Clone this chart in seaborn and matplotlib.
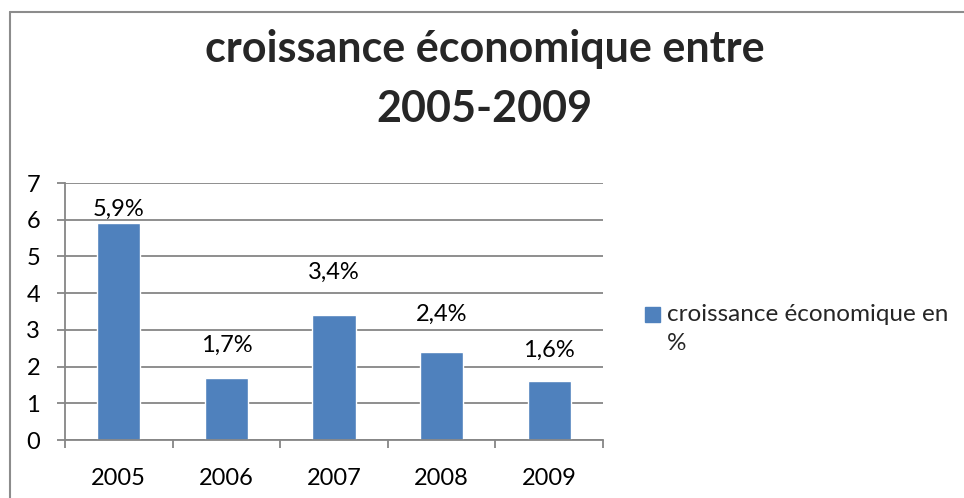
import matplotlib
matplotlib.use("Agg")
import matplotlib.pyplot as plt
import matplotlib.patches as mpatches
from matplotlib.legend_handler import HandlerPatch
from matplotlib.lines import Line2D
from matplotlib.ticker import FixedLocator
import pandas as pd
import seaborn as sns

# ---------------------------------------- DATA ----------------------------------------
years = ["2005", "2006", "2007", "2008", "2009"]
growth = [5.9, 1.7, 3.4, 2.4, 1.6]
value_labels = ["5,9%", "1,7%", "3,4%", "2,4%", "1,6%"]
series_name = "croissance économique en\n%"
title = "croissance économique entre\n2005-2009"

df = pd.DataFrame({"annee": years, "croissance": growth})

# ---------------------------------------- STYLE ----------------------------------------
sns.set_style("white")
plt.rcParams["font.family"] = ["Lato", "DejaVu Sans"]
bar_color = "#4F81BD"
grid_color = "#868686"

fig = plt.figure(figsize=(9.64, 4.98), dpi=100)
ax = fig.add_axes([65 / 964, 1 - 440 / 498, 538 / 964, 257 / 498])

sns.barplot(data=df, x="annee", y="croissance", color=bar_color, width=0.4,
            saturation=1, ax=ax)

ax.set_ylim(0, 7)
ax.set_xlim(-0.5, len(years) - 0.5)
ax.set_yticks(range(0, 8))
ax.yaxis.grid(True, color=grid_color, linewidth=1.3)
ax.set_axisbelow(True)
ax.set_xlabel("")
ax.set_ylabel("")

for side in ["top", "right"]:
    ax.spines[side].set_visible(False)
for side in ["left", "bottom"]:
    ax.spines[side].set_color(grid_color)
    ax.spines[side].set_linewidth(1.3)

ax.tick_params(axis="y", length=6, width=1.3, color=grid_color, pad=12,
               labelsize=17, labelcolor="black", left=True)
# x ticks between categories
ax.xaxis.set_minor_locator(FixedLocator([i - 0.5 for i in range(len(years) + 1)]))
ax.tick_params(axis="x", which="minor", length=6, width=1.3, color=grid_color,
               bottom=True)
ax.tick_params(axis="x", which="major", length=0, pad=20, labelsize=17,
               labelcolor="black")

# data labels above bars (placed like in the source sheet)
label_offsets = [10, 23, 31, 27, 22]
for i, (v, lab) in enumerate(zip(growth, value_labels)):
    ax.annotate(lab, xy=(i, v), xytext=(0, label_offsets[i]),
                textcoords="offset points", ha="center", va="center",
                fontsize=17, color="black")

# title
fig.text(0.503, 1 - 79 / 498, title, ha="center", va="center", fontsize=31,
         fontweight="bold", linespacing=1.6)


# legend marker sits on the first line of the wrapped label
def first_line_patch(legend, orig_handle, xdescent, ydescent, width, height, fontsize):
    return mpatches.Rectangle((-xdescent, -ydescent + fontsize * 0.58), width, height)


handle = mpatches.Patch(color=bar_color)
leg = fig.legend([handle], [series_name], loc="upper left",
                 bbox_to_anchor=(645 / 964, 1 - 304 / 498), frameon=False,
                 fontsize=17.5, handlelength=0.6, handleheight=0.6, handletextpad=0.3,
                 borderaxespad=0, borderpad=0,
                 handler_map={mpatches.Patch: HandlerPatch(patch_func=first_line_patch)})
leg.get_texts()[0].set_linespacing(1.45)

# chart area border (top and left visible)
fig.add_artist(Line2D([10 / 964, 10 / 964], [0, 1 - 12 / 498],
                      color="#8c8c8c", linewidth=1.5, transform=fig.transFigure))
fig.add_artist(Line2D([10 / 964, 1], [1 - 12 / 498, 1 - 12 / 498],
                      color="#8c8c8c", linewidth=1.5, transform=fig.transFigure))

fig.savefig("out.png", dpi=100)
